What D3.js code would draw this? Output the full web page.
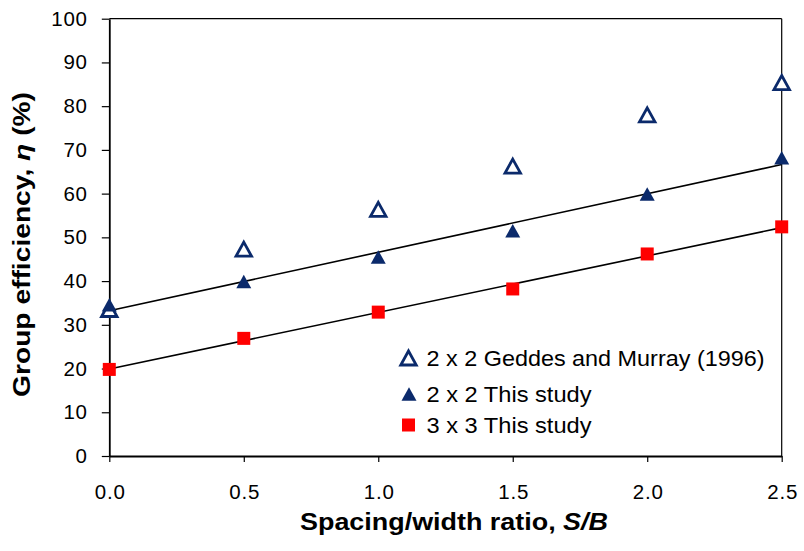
<!DOCTYPE html>
<html><head><meta charset="utf-8">
<script src="https://cdn.jsdelivr.net/npm/d3@7"></script>
<style>body{margin:0;background:#fff}svg{display:block}text{font-family:"Liberation Sans",Arial,sans-serif}</style>
</head><body><svg id="c" width="804" height="551"></svg>
<script>
const xValues = [0, 0.5, 1.0, 1.5, 2.0, 2.5];
const geddes = [33.5, 47.3, 56.4, 66.3, 78.0, 85.4];
const study2x2 = [34.6, 39.9, 45.5, 51.5, 59.9, 68.2];
const study3x3 = [19.8, 26.9, 32.9, 38.2, 46.2, 52.4];
const xTicks = [0, 0.5, 1.0, 1.5, 2.0, 2.5];
const yTicks = [0,10,20,30,40,50,60,70,80,90,100];
const legendLabels = ["2 x 2 Geddes and Murray (1996)", "2 x 2 This study", "3 x 3 This study"];

const navy = "#0b2a6b", red = "#ff0000";
const svg = d3.select("#c");
const x = d3.scaleLinear().domain([0, 2.5]).range([109.3, 781.7]);
const y = d3.scaleLinear().domain([0, 100]).range([456, 18.7]);

// borders
svg.append("line").attr("x1", x(0)).attr("x2", x(2.5)).attr("y1", y(100)).attr("y2", y(100)).attr("stroke", "#000").attr("stroke-width", 1.2);
svg.append("line").attr("x1", x(2.5)).attr("x2", x(2.5)).attr("y1", y(100)).attr("y2", y(0)).attr("stroke", "#000").attr("stroke-width", 1.2);

const xAxis = svg.append("g").attr("transform", `translate(0,${y(0)})`)
  .call(d3.axisBottom(x).tickValues(xTicks).tickSize(6).tickSizeOuter(0).tickPadding(22.5).tickFormat(d3.format(".1f")));
const yAxis = svg.append("g").attr("transform", `translate(${x(0)},0)`)
  .call(d3.axisLeft(y).tickValues(yTicks).tickSize(7.5).tickSizeOuter(0).tickPadding(14));
[xAxis, yAxis].forEach(a => {
  a.select(".domain").attr("stroke", "#000").attr("stroke-width", 1.8);
  a.selectAll(".tick line").attr("stroke", "#000").attr("stroke-width", 1.2);
  a.selectAll("text").attr("fill", "#000").style("font-size", "20.5px").style("letter-spacing", "0.8px")
    .style("font-family", '"Liberation Sans",Arial,sans-serif');
});
xAxis.selectAll("text").attr("dx", "0.5px");

// regression lines computed from data
function fit(xs, ys) {
  const mx = d3.mean(xs), my = d3.mean(ys);
  const b = d3.sum(xs, (v, i) => (v - mx) * (ys[i] - my)) / d3.sum(xs, v => (v - mx) ** 2);
  return [my - b * mx, b];
}
[study2x2, study3x3].forEach(s => {
  const [a, b] = fit(xValues, s);
  svg.append("line").attr("x1", x(0)).attr("y1", y(a)).attr("x2", x(2.5)).attr("y2", y(a + b * 2.5))
    .attr("stroke", "#000").attr("stroke-width", 1.6);
});

const tri = (w, h) => `M0,${-h/2}L${w/2},${h/2}L${-w/2},${h/2}Z`;
function openTri(g, cx, cy) {
  g.append("path").attr("d", tri(15.5, 14)).attr("transform", `translate(${cx},${cy})`)
    .attr("fill", "#fff").attr("stroke", navy).attr("stroke-width", 2.8).attr("stroke-linejoin", "miter");
}
function solidTri(g, cx, cy) {
  g.append("path").attr("d", tri(15, 13.5)).attr("transform", `translate(${cx},${cy})`).attr("fill", navy);
}
function square(g, cx, cy) {
  g.append("rect").attr("x", cx - 6.5).attr("y", cy - 6.5).attr("width", 13).attr("height", 13).attr("fill", red);
}
const mk = svg.append("g");
xValues.forEach((v, i) => openTri(mk, x(v), y(geddes[i])));
xValues.forEach((v, i) => solidTri(mk, x(v), y(study2x2[i])));
xValues.forEach((v, i) => square(mk, x(v), y(study3x3[i])));

// legend
const lg = svg.append("g");
const ly = [358, 394, 425];
const lw = [338, 165, 165];
openTri(lg, 408.5, ly[0]); solidTri(lg, 409, ly[1]); square(lg, 408.5, ly[2]);
legendLabels.forEach((t, i) => lg.append("text").attr("x", 426.5).attr("y", ly[i] + 8)
  .attr("textLength", lw[i]).attr("lengthAdjust", "spacingAndGlyphs")
  .style("font-size", "21.5px").attr("fill", "#000").text(t));

// axis titles
const xt = svg.append("text").attr("x", 300).attr("y", 530)
  .attr("textLength", 308).attr("lengthAdjust", "spacingAndGlyphs")
  .style("font-size", "23px").style("font-weight", "bold").attr("fill", "#000");
xt.append("tspan").text("Spacing/width ratio, ");
xt.append("tspan").style("font-style", "italic").text("S/B");
const yt = svg.append("text").attr("transform", "translate(29.5,397) rotate(-90)")
  .attr("textLength", 305).attr("lengthAdjust", "spacingAndGlyphs")
  .style("font-size", "23px").style("font-weight", "bold").attr("fill", "#000");
yt.append("tspan").text("Group efficiency, ");
yt.append("tspan").style("font-style", "italic").text("η");
yt.append("tspan").text(" (%)");
</script></body></html>
